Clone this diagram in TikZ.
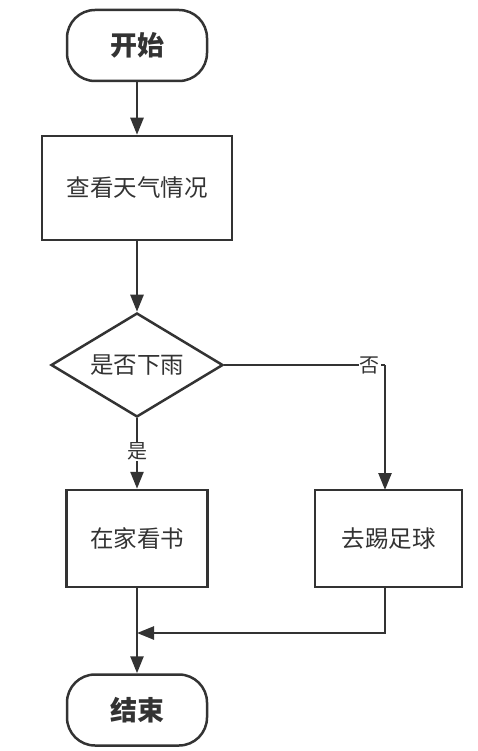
\documentclass[tikz,border=0pt]{standalone}
\usepackage{fontspec}
\setmainfont{Noto Sans CJK SC}
\usetikzlibrary{shapes.geometric,arrows.meta}
\definecolor{ink}{HTML}{333333}
\begin{document}
\begin{tikzpicture}[x=1pt,y=-1pt,
  every node/.style={text=ink},
  line/.style={draw=ink,line width=2.5pt},
  arr/.style={line,-{Triangle[length=17pt,width=13pt]}},
  term/.style={draw=ink,line width=2.5pt,rounded corners=28pt,minimum width=140pt,minimum height=71pt,inner sep=0pt,font=\fontsize{27}{30}\selectfont\bfseries},
  proc/.style={draw=ink,line width=2.5pt,inner sep=0pt,font=\fontsize{23.5}{26}\selectfont},
  dec/.style={draw=ink,line width=2.5pt,diamond,inner sep=0pt,text height=10pt,text depth=2pt,minimum width=172pt,minimum height=104pt,font=\fontsize{23.5}{26}\selectfont},
  lbl/.style={fill=white,inner sep=1pt,font=\fontsize{20}{22}\selectfont}]
\useasboundingbox (0,0) rectangle (477,751);
\node[term] (start) at (137,45.5) {开始};
\node[proc,minimum width=190pt,minimum height=104pt] (look) at (137,188) {查看天气情况};
\node[dec] (rain) at (137,365) {};
\node (raintext) at (rain.center) [font=\fontsize{23.5}{26}\selectfont] {是否下雨};
\node[proc,minimum width=141pt,minimum height=97pt] (home) at (137,538.5) {在家看书};
\node[proc,minimum width=147pt,minimum height=97pt] (ball) at (388.5,538.5) {去踢足球};
\node[term] (end) at (137,710) {结束};
\coordinate (turn) at (385,365);
\coordinate (ballin) at (385,490);
\coordinate (ballout) at (385,587);
\coordinate (mergeR) at (385,633);
\coordinate (merge) at (137,633);
\draw[arr] (start) -- (look);
\draw[arr] (look) -- (rain);
\draw[arr] (rain) -- node[lbl,pos=0.47] (yes) {是} (home);
\draw[line] (rain.east) -- (turn) node[lbl,pos=0.905] (no) {否};
\draw[arr] (turn) -- (ballin);
\draw[arr] (ballout) -- (mergeR) -- (merge);
\draw[arr] (home) -- (end);
\end{tikzpicture}
\end{document}
